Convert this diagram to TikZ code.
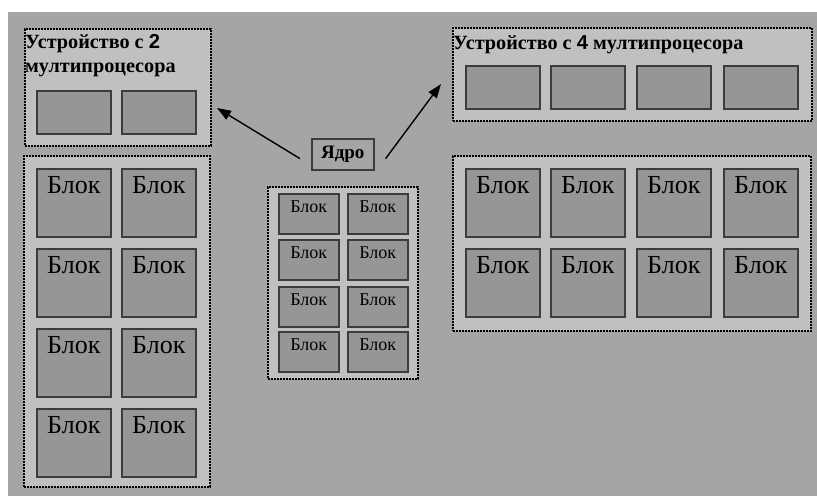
\documentclass[tikz,border=0pt]{standalone}
\usepackage{fontspec}
\setmainfont{Liberation Serif}
\newfontfamily\digitfont{Liberation Sans}
\usetikzlibrary{arrows.meta,calc}
\definecolor{bgc}{HTML}{A5A5A5}
\definecolor{boxc}{HTML}{C0C0C0}
\definecolor{blkc}{HTML}{969696}
\definecolor{bdrc}{HTML}{3C3C3C}
\tikzset{
  devbox/.style={draw=black, fill=boxc, line width=2pt, dash pattern=on 1.6pt off 1.4pt, inner sep=0pt, anchor=north west},
  cellbox/.style={draw=bdrc, fill=blkc, line width=1.6pt, inner sep=0pt, anchor=north west},
  mpbox/.style={cellbox, minimum width=74pt, minimum height=43pt},
  bigblk/.style={cellbox, minimum width=74pt, minimum height=68pt,
    label={[anchor=base, yshift=-25pt, inner sep=0pt, font=\fontsize{26}{28}\selectfont]north:Блок}},
  smallblk/.style={cellbox, minimum width=60pt, minimum height=40pt,
    label={[anchor=base, yshift=-19pt, inner sep=0pt, font=\fontsize{18}{20}\selectfont]north:Блок}},
  titletext/.style={anchor=base west, inner sep=0pt, font=\fontsize{20.2}{24}\selectfont\bfseries},
  corebox/.style={draw=bdrc, fill=bgc, line width=1.6pt, inner sep=0pt, minimum width=62pt, minimum height=31pt, anchor=north west, font=\fontsize{19}{21}\selectfont\bfseries},
  arr/.style={-{Triangle[length=14pt,width=10pt]}, line width=1.4pt, draw=black}
}
\begin{document}
\begin{tikzpicture}[x=1pt,y=-1pt]
  \useasboundingbox (0,0) rectangle (817,496);
  \fill[white] (0,0) rectangle (817,496);
  \fill[bgc] (8,12) rectangle (817,496);

  % left top device
  \node[devbox, minimum width=186pt, minimum height=117pt] (dev2) at (24,28) {};
  \node[titletext] (t2a) at (25,48) {Устройство с {\digitfont\bfseries 2}};
  \node[titletext] (t2b) at (25,72) {мултипроцесора};
  \node[mpbox] (m21) at (36,90) {};
  \node[mpbox] (m22) at (121,90) {};

  % left bottom grid
  \node[devbox, minimum width=186pt, minimum height=331pt] (grid2) at (23,155) {};
  \foreach \r/\y in {1/168,2/248,3/328,4/408}{
    \foreach \c/\x in {1/36,2/121}{
      \node[bigblk] (lb\r\c) at (\x,\y) {};
    }
  }

  % right top device
  \node[devbox, minimum width=359pt, minimum height=93pt] (dev4) at (452,27) {};
  \node[titletext] (t4) at (453,49) {Устройство с {\digitfont\bfseries 4} мултипроцесора};
  \foreach \c/\x in {1/465,2/550,3/636,4/723}{
    \node[mpbox] (m4\c) at (\x,65) {};
  }

  % right bottom grid
  \node[devbox, minimum width=358pt, minimum height=175pt] (grid4) at (452,155) {};
  \foreach \r/\y in {1/168,2/248}{
    \foreach \c/\x in {1/465,2/550,3/636,4/723}{
      \node[bigblk] (rb\r\c) at (\x,\y) {};
    }
  }

  % centre kernel
  \node[corebox] (yadro) at (311,138) {Ядро};
  \node[devbox, minimum width=150pt, minimum height=192pt] (gridc) at (267,186) {};
  \foreach \r/\y in {1/193,2/239,3/286,4/331}{
    \foreach \c/\x in {1/278,2/347}{
      \node[smallblk] (cb\r\c) at (\x,\y) {};
    }
  }

  % arrows
  \coordinate (ls) at ($(yadro.south west)+(-11,-12)$);
  \coordinate (le) at ($(dev2.north east)+(5,80)$);
  \coordinate (rs) at ($(yadro.south east)+(11,-12)$);
  \coordinate (re) at ($(dev4.north west)+(-11,57)$);
  \draw[arr] (ls) -- (le);
  \draw[arr] (rs) -- (re);
\end{tikzpicture}
\end{document}
